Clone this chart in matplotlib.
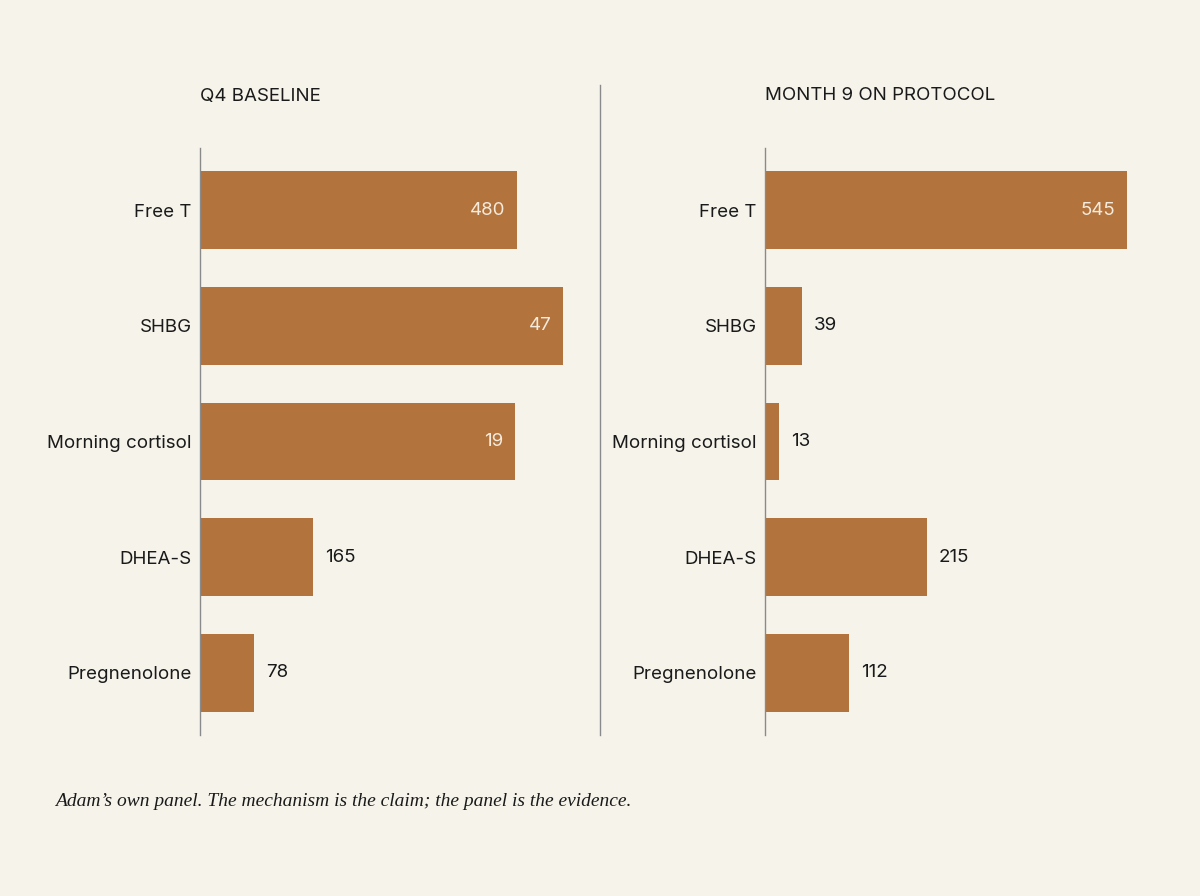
import matplotlib
matplotlib.use("Agg")
import matplotlib.pyplot as plt

# markers shown on both panels, top to bottom
markers = ["Free T", "SHBG", "Morning cortisol", "DHEA-S", "Pregnenolone"]

# printed values
baseline_vals = [480, 47, 19, 165, 78]
month9_vals = [545, 39, 13, 215, 112]

# bar length as % of the panel's full scale
baseline_scale = [87.3, 100, 86.8, 31.1, 14.9]
month9_scale = [99.7, 10.2, 3.9, 44.6, 23.1]

bg = "#F5F3EA"
bar_color = "#B2733C"
plt.rcParams["font.family"] = ["Inter", "DejaVu Sans"]

fig = plt.figure(figsize=(12, 8.96), dpi=100, facecolor=bg)

W, H = 1200, 896
top, bottom = 148, 735


def panel(left_px, title, vals, scale):
    ax = fig.add_axes([left_px / W, 1 - bottom / H, 363 / W, (bottom - top) / H])
    ax.set_facecolor("none")
    y = list(range(len(markers)))
    ax.barh(y, scale, height=0.675, color=bar_color)
    ax.set_xlim(0, 100)
    ax.set_ylim(len(markers) - 0.46, -0.54)
    ax.set_yticks(y)
    ax.set_yticklabels(markers, fontsize=13.5, color="#1a1a1a")
    ax.tick_params(axis="y", length=0, pad=6)
    ax.set_xticks([])
    for s in ["top", "right", "bottom"]:
        ax.spines[s].set_visible(False)
    ax.spines["left"].set_color("#8a8a8a")
    ax.spines["left"].set_linewidth(1.0)
    for yi, v, s in zip(y, vals, scale):
        if s > 50:
            ax.annotate(str(v), (s, yi), xytext=(-8.5, 0), textcoords="offset points",
                        ha="right", va="center", fontsize=13.5, color="#F5EBDD")
        else:
            ax.annotate(str(v), (s, yi), xytext=(8.5, 0), textcoords="offset points",
                        ha="left", va="center", fontsize=13.5, color="#1a1a1a",
                        annotation_clip=False)
    fig.text(left_px / W, 1 - 96 / H, title, ha="left", va="center",
             fontsize=13.5, color="#1a1a1a")
    return ax


panel(200, "Q4 BASELINE", baseline_vals, baseline_scale)
panel(765, "MONTH 9 ON PROTOCOL", month9_vals, month9_scale)

# divider between panels
fig.add_artist(plt.Line2D([600 / W, 600 / W], [1 - 85 / H, 1 - 735 / H],
                          color="#8a8a8a", linewidth=1.0))

fig.text(55 / W, 1 - 801 / H,
         "Adam\u2019s own panel. The mechanism is the claim; the panel is the evidence.",
         ha="left", va="center", fontsize=14, style="italic",
         family=["Liberation Serif", "DejaVu Serif"], color="#1a1a1a")

fig.savefig("out.png", dpi=100, facecolor=bg)
